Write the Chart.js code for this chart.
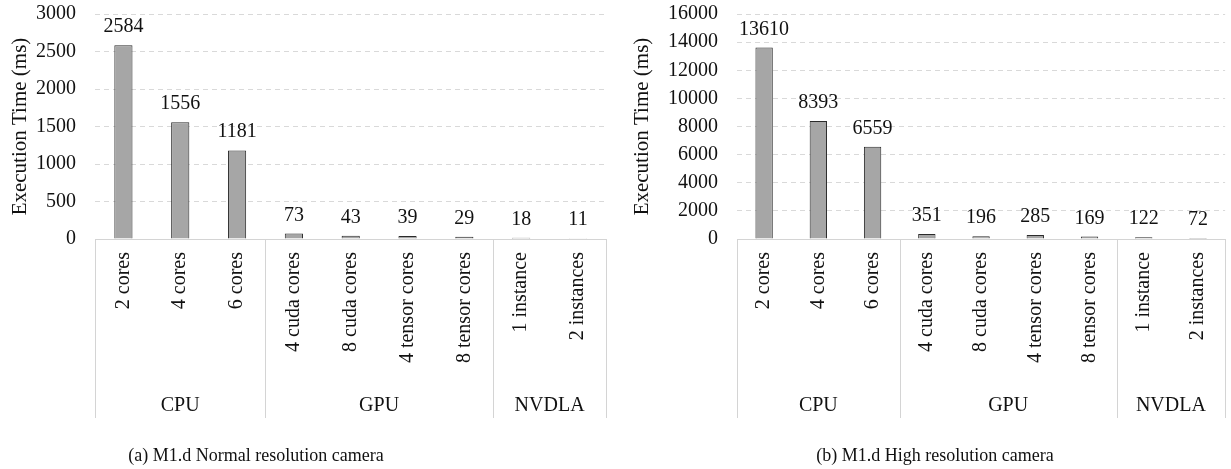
<!DOCTYPE html>
<html>
<head>
<meta charset="utf-8">
<script src="https://cdn.jsdelivr.net/npm/chart.js@4/dist/chart.umd.min.js"></script>
<style>
  html, body { margin: 0; padding: 0; background: #fff; }
  .wrap { position: relative; width: 1231px; height: 469px; overflow: hidden; }
  .panel { position: absolute; top: 0; }
  #panelA { left: 0; width: 615px; }
  #panelB { left: 615px; width: 620px; }
</style>
</head>
<body>
<div class="wrap">
  <div class="panel" id="panelA"></div>
  <div class="panel" id="panelB"></div>
</div>
<script>
// Configurations on the x axis, grouped by accelerator
const categories = ['2 cores', '4 cores', '6 cores', '4 cuda cores', '8 cuda cores',
                    '4 tensor cores', '8 tensor cores', '1 instance', '2 instances'];
const groupNames = ['CPU', 'GPU', 'NVDLA'];
const groupSizes = [3, 4, 2];

// Execution time in ms
const normalResTimes = [2584, 1556, 1181, 73, 43, 39, 29, 18, 11];
const highResTimes = [13610, 8393, 6559, 351, 196, 285, 169, 122, 72];

// Y axis ticks
const normalResTicks = { max: 3000, step: 500 };
const highResTicks = { max: 16000, step: 2000 };

// Sub-figure captions
const captionA = '(a) M1.d Normal resolution camera';
const captionB = '(b) M1.d High resolution camera';

const FONT = '"Liberation Serif"';
const INK = '#111';
const LINE = '#d4d4d4';

// Boxed two-level category axis: separators between groups, group names, caption
const groupAxis = {
  id: 'groupAxis',
  afterDraw(chart, args, opts) {
    const x = chart.scales.x;
    const ctx = chart.ctx;
    const top = chart.chartArea.bottom;
    const bottom = top + opts.boxHeight;
    const half = (x.getPixelForValue(1) - x.getPixelForValue(0)) / 2;
    const edges = [x.left];
    let idx = 0;
    opts.sizes.forEach(n => {
      idx += n;
      edges.push(idx >= categories.length ? x.right : x.getPixelForValue(idx) - half);
    });
    ctx.save();
    ctx.strokeStyle = LINE;
    ctx.lineWidth = 1;
    edges.forEach(px => {
      const xx = Math.round(px) + 0.5;
      ctx.beginPath();
      ctx.moveTo(xx, top);
      ctx.lineTo(xx, bottom);
      ctx.stroke();
    });
    ctx.fillStyle = INK;
    ctx.font = '20px ' + FONT;
    ctx.textAlign = 'center';
    ctx.textBaseline = 'middle';
    opts.names.forEach((name, i) => {
      ctx.fillText(name, (edges[i] + edges[i + 1]) / 2, top + opts.labelOffset);
    });
    ctx.font = '18px ' + FONT;
    ctx.fillText(opts.caption, opts.captionX, top + opts.captionOffset);
    ctx.restore();
  }
};

// Value printed above every bar
const barValues = {
  id: 'barValues',
  afterDatasetsDraw(chart) {
    const ctx = chart.ctx;
    const meta = chart.getDatasetMeta(0);
    const data = chart.data.datasets[0].data;
    ctx.save();
    ctx.fillStyle = INK;
    ctx.font = '20px ' + FONT;
    ctx.textAlign = 'center';
    ctx.textBaseline = 'alphabetic';
    meta.data.forEach((bar, i) => {
      ctx.fillText(String(data[i]), bar.x, bar.y - 13);
    });
    ctx.restore();
  }
};

const PLOT_TOP = 14;      // page y of the highest gridline
const PLOT_BOTTOM = 239;  // page y of the value axis zero
const XAXIS_H = 186;      // room for rotated labels and group names
const CANVAS_EXTRA = 44;  // caption strip below the axis box

function buildChart(panel, width, height, values, ticks, axisWidth, titlePad, caption, captionX) {
  panel.innerHTML = '';
  const canvas = document.createElement('canvas');
  canvas.width = width;
  canvas.height = height;
  panel.appendChild(canvas);
  return new Chart(canvas, {
    type: 'bar',
    data: {
      labels: categories,
      datasets: [{
        data: values,
        backgroundColor: '#a6a6a6',
        borderColor: '#2b2b2b',
        borderWidth: 1,
        borderSkipped: 'bottom',
        barPercentage: 0.32,
        categoryPercentage: 1
      }]
    },
    options: {
      responsive: false,
      animation: false,
      devicePixelRatio: 1,
      layout: { padding: { top: 0, left: 0, right: 0, bottom: CANVAS_EXTRA } },
      plugins: {
        legend: { display: false },
        tooltip: { enabled: false },
        groupAxis: { names: groupNames, sizes: groupSizes, boxHeight: 179, labelOffset: 167,
                     caption: caption, captionX: captionX, captionOffset: 217 }
      },
      scales: {
        x: {
          grid: { display: false, drawTicks: false },
          border: { display: true, color: LINE, width: 1 },
          ticks: { minRotation: 90, maxRotation: 90, padding: 13, autoSkip: false,
                   font: { size: 20, family: FONT }, color: INK },
          afterFit(scale) { scale.height = XAXIS_H; }
        },
        y: {
          min: 0,
          max: ticks.max,
          grid: { color: '#d9d9d9', lineWidth: 1, drawTicks: false },
          border: { display: false, dash: [5, 4] },
          ticks: { stepSize: ticks.step, autoSkip: false, padding: 19,
                   font: { size: 20, family: FONT }, color: INK, callback: v => String(v) },
          title: { display: true, text: 'Execution Time (ms)', font: { size: 21, family: FONT },
                   color: INK, padding: { top: titlePad, bottom: 0 } },
          afterFit(scale) { scale.width = axisWidth; }
        }
      }
    },
    plugins: [groupAxis, barValues]
  });
}

// Size the canvas so the plot spans PLOT_TOP..PLOT_BOTTOM on the page
function makeChart(panelId, width, values, ticks, axisWidth, titlePad, caption, captionX) {
  const panel = document.getElementById(panelId);
  const base = PLOT_BOTTOM + XAXIS_H + CANVAS_EXTRA;
  let chart = buildChart(panel, width, base, values, ticks, axisWidth, titlePad, caption, captionX);
  const shift = Math.round(chart.chartArea.top - PLOT_TOP);
  if (shift !== 0) {
    chart.destroy();
    chart = buildChart(panel, width, base + shift, values, ticks, axisWidth, titlePad, caption, captionX);
    panel.style.top = (-shift) + 'px';
  }
  return chart;
}

Chart.defaults.font.family = FONT;
Chart.defaults.color = INK;
makeChart('panelA', 615, normalResTimes, normalResTicks, 95, 8, captionA, 256);
makeChart('panelB', 620, highResTimes, highResTicks, 122, 15, captionB, 320);
</script>
</body>
</html>
